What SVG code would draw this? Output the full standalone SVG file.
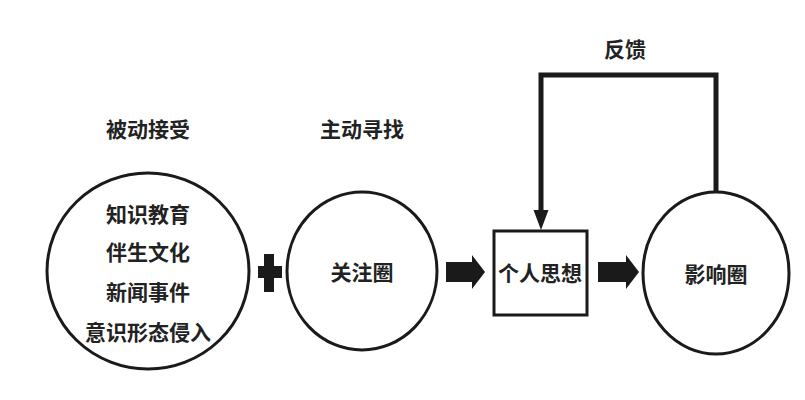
<svg xmlns="http://www.w3.org/2000/svg" width="805" height="400" viewBox="0 0 805 400">
<style>
text{font-family:"Noto Sans CJK SC",sans-serif;font-weight:bold;font-size:21px;fill:#222;text-anchor:middle;dominant-baseline:central}
.n{fill:#fff;stroke:#1a1a1a;stroke-width:3}
.c{fill:none;stroke:#1a1a1a;stroke-width:5}
.a{fill:#1a1a1a}
</style>
<defs><marker id="m" markerWidth="4" markerHeight="4" refX="2" refY="2" orient="auto" markerUnits="strokeWidth"><path d="M0,0.5 L4,2 L0,3.5Z" fill="#1a1a1a"/></marker></defs>
<rect width="805" height="400" fill="#fff"/>
<text x="148" y="128">被动接受</text>
<text x="362" y="128">主动寻找</text>
<text x="625" y="48">反馈</text>
<g id="passive"><ellipse class="n" cx="148" cy="271" rx="101" ry="98"/>
<text x="148" y="213">知识教育</text><text x="148" y="251">伴生文化</text><text x="148" y="291">新闻事件</text><text x="148" y="331">意识形态侵入</text></g>
<g id="plus"><path class="a" d="M264,254h10v12h8v12h-8v14h-10v-14h-6v-12h6z"/></g>
<g id="focus"><ellipse class="n" cx="362" cy="271" rx="75" ry="79"/><text x="362" y="271">关注圈</text></g>
<g id="thought"><rect class="n" x="494" y="231" width="93" height="84"/><text x="540" y="272">个人思想</text></g>
<g id="influence"><ellipse class="n" cx="716" cy="273" rx="73" ry="81"/><text x="716" y="273">影响圈</text></g>
<g id="connectors">
<path class="a" d="M446,262h26v-7l13,17l-13,17v-7h-26z"/>
<path class="a" d="M598,262h28v-7l13,17l-13,17v-7h-28z"/>
<path class="c" d="M716,192V75H541V220" marker-end="url(#m)"/>
</g>
</svg>
